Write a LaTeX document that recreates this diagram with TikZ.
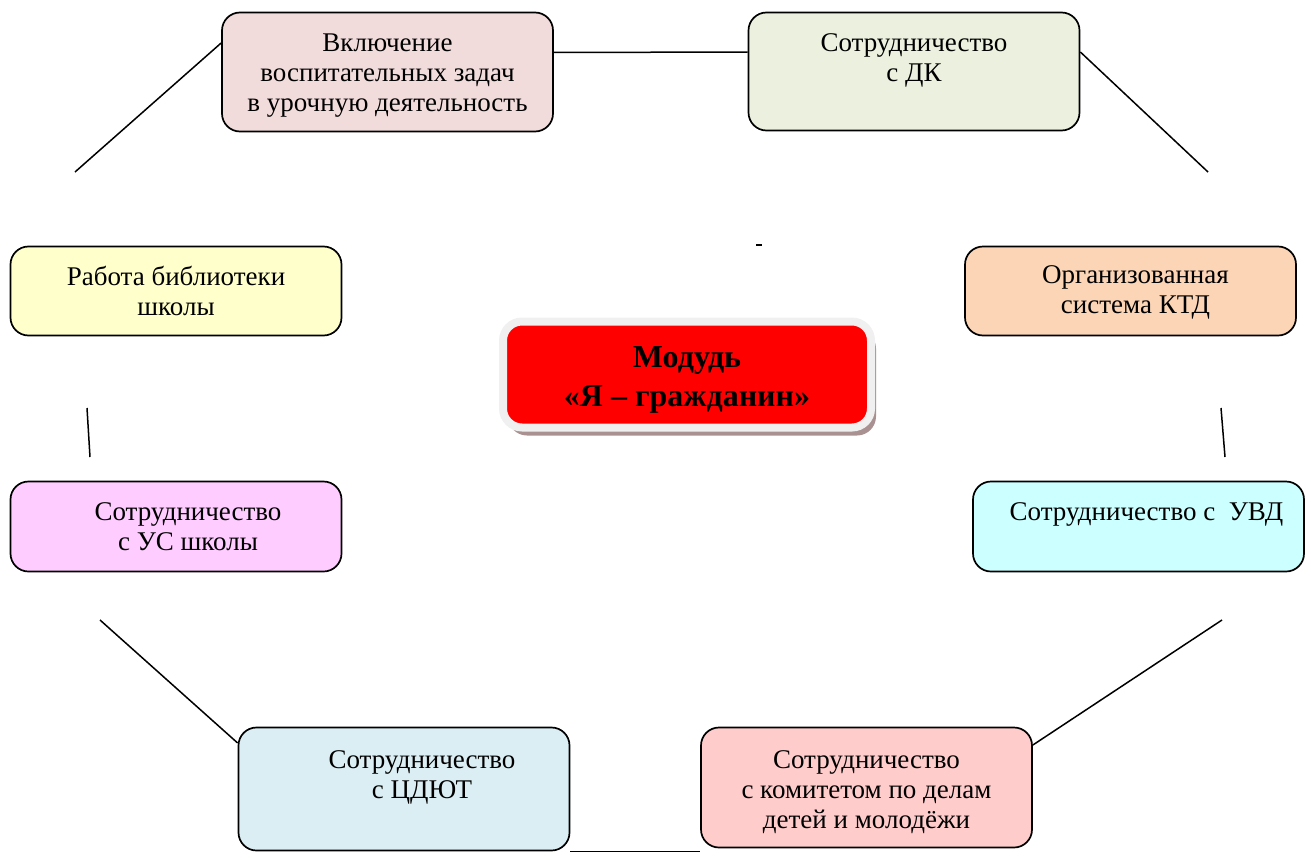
\documentclass[tikz,border=0pt]{standalone}
\usepackage{fontspec}
\setmainfont{Liberation Serif}
\usetikzlibrary{shadows}
\usepackage{xcolor}
\definecolor{urokcolor}{HTML}{F2DCDB}
\definecolor{dkcolor}{HTML}{EBF1DE}
\definecolor{bibliocolor}{HTML}{FFFFCC}
\definecolor{ktdcolor}{HTML}{FBD5B5}
\definecolor{uscolor}{HTML}{FFCCFF}
\definecolor{uvdcolor}{HTML}{CCFFFF}
\definecolor{cdyutcolor}{HTML}{DBEEF3}
\definecolor{komcolor}{HTML}{FFCCCC}
\definecolor{rimcolor}{HTML}{F0F0F0}
\definecolor{shadecolor}{HTML}{A99191}
\newcommand{\boxw}{331}
\newcommand{\txtshift}{22pt}

\begin{document}
\begin{tikzpicture}[x=1pt, y=-1pt,
    box/.style={draw, line width=1.7pt, rounded corners=18pt, minimum width=\boxw pt, inner sep=0pt},
    boxtext/.style={align=center, inner sep=0pt, anchor=north, font=\fontsize{27}{30}\selectfont},
    link/.style={line width=1.5pt}]
        \useasboundingbox (0, 0) rectangle (1311, 859);

        % boxes round the module
        \node[box, fill=urokcolor, minimum height=119pt] (urok) at (387.5, 72) {};
        \node[box, fill=dkcolor, minimum height=118pt] (dk) at (914, 71.5) {};
        \node[box, fill=bibliocolor, minimum height=89pt] (biblio) at (176, 291) {};
        \node[box, fill=ktdcolor, minimum height=89pt] (ktd) at (1130.5, 291) {};
        \node[box, fill=uscolor, minimum height=90pt] (us) at (176, 526.5) {};
        \node[box, fill=uvdcolor, minimum height=90pt] (uvd) at (1138.5, 526.5) {};
        \node[box, fill=cdyutcolor, minimum height=123pt] (cdyut) at (404, 789) {};
        \node[box, fill=komcolor, minimum height=120pt] (kom) at (866.5, 787.5) {};

        \node[boxtext] (urok-t) at ([yshift=-\txtshift]urok.north)
            {Включение\\воспитательных задач\\в урочную деятельность};
        \node[boxtext] (dk-t) at ([yshift=-\txtshift]dk.north) {Сотрудничество\\с ДК};
        \node[boxtext] (biblio-t) at ([yshift=-20pt]biblio.north) {Работа библиотеки\\школы};
        \node[boxtext] (ktd-t) at ([xshift=5pt, yshift=-20pt]ktd.north) {Организованная\\система КТД};
        \node[boxtext] (us-t) at ([xshift=12pt, yshift=-\txtshift]us.north) {Сотрудничество\\с УС школы};
        \node[boxtext] (uvd-t) at ([xshift=8pt, yshift=-\txtshift]uvd.north) {Сотрудничество с \ УВД};
        \node[boxtext] (cdyut-t) at ([xshift=18pt, yshift=-24pt]cdyut.north) {Сотрудничество\\с ЦДЮТ};
        \node[boxtext] (kom-t) at ([yshift=-24pt]kom.north)
            {Сотрудничество\\с комитетом по делам\\детей и молодёжи};

        % the module itself
        \node[draw=rimcolor, line width=8pt, fill=red, rounded corners=19pt,
            minimum width=368pt, minimum height=106pt, inner sep=0pt, align=center,
            font=\fontsize{32}{39}\selectfont\bfseries,
            drop shadow={opacity=1, fill=shadecolor, shadow xshift=5pt, shadow yshift=-8pt}]
            (modul) at (687, 374.5) {\rule{0pt}{32pt}Модудь\\«Я – гражданин»};

        % free ends of the lines
        \coordinate (urok-end) at (75, 172);
        \coordinate (dk-end) at (1208, 172);
        \coordinate (left-a) at (87, 408);
        \coordinate (left-b) at (90, 457);
        \coordinate (right-a) at (1221, 408);
        \coordinate (right-b) at (1225, 457);
        \coordinate (cdyut-end) at (100, 620);
        \coordinate (kom-end) at (1222, 620);
        \coordinate (dash-a) at (756, 245);
        \coordinate (dash-b) at (762, 245);

        \draw[link] ([yshift=19.5pt]urok.east) -- ([yshift=19.5pt]dk.west);
        \draw[link] ([yshift=19.5pt]dk.east) -- (dk-end);
        \draw[link] ([yshift=29pt]urok.west) -- (urok-end);
        \draw[link] (left-a) -- (left-b);
        \draw[link] (right-a) -- (right-b);
        \draw[link] ([yshift=46pt]cdyut.west) -- (cdyut-end);
        \draw[link] ([yshift=42.5pt]kom.east) -- (kom-end);
        \draw[link] (cdyut.south east) -- (cdyut.south east -| kom.west);
        \draw[line width=2pt] (dash-a) -- (dash-b);
\end{tikzpicture}
\end{document}
